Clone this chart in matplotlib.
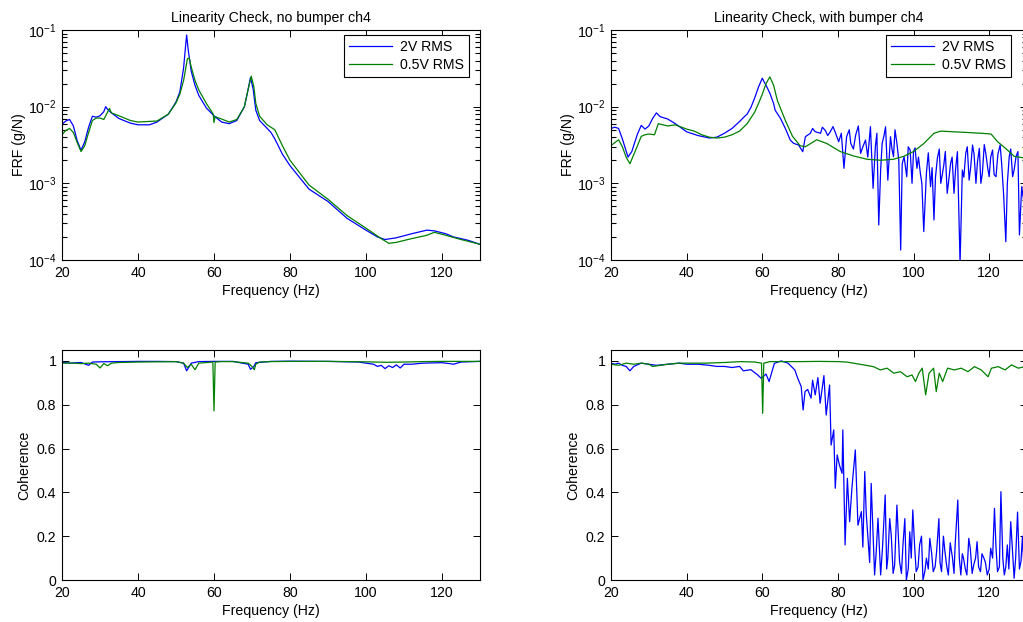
import matplotlib
matplotlib.use("Agg")
import matplotlib.pyplot as plt
from matplotlib.ticker import FixedLocator, NullFormatter

# ---------------- data ----------------
# Top-left: FRF, no bumper
f_tl_2v = [20, 21, 22, 23, 24, 25, 26, 27, 28, 29, 30, 31, 31.5, 32, 33, 35, 38, 40, 43, 45, 48, 50,
           51, 52, 52.5, 52.8, 53.2, 54, 55, 56, 58, 60, 62, 64, 66, 68, 69, 69.6, 70.3, 71, 72, 74,
           75, 76, 78, 80, 85, 90, 95, 100, 103, 105, 108, 112, 116, 118, 121, 123, 125, 127, 130]
frf_tl_2v = [5.9e-3, 6.5e-3, 6.8e-3, 5.6e-3, 3.6e-3, 2.7e-3, 3.5e-3, 5.4e-3, 7.5e-3, 7.3e-3, 7.6e-3,
             8.6e-3, 1.0e-2, 9.2e-3, 8.3e-3, 7.0e-3, 6.1e-3, 5.8e-3, 5.8e-3, 6.3e-3, 8.0e-3, 1.15e-2,
             1.55e-2, 3.2e-2, 6.0e-2, 8.6e-2, 5.6e-2, 2.9e-2, 1.9e-2, 1.4e-2, 9.6e-3, 7.6e-3, 6.3e-3,
             6.0e-3, 6.6e-3, 1.0e-2, 1.7e-2, 2.4e-2, 1.7e-2, 9.0e-3, 6.6e-3, 5.2e-3, 4.6e-3, 3.8e-3,
             2.4e-3, 1.7e-3, 8.4e-4, 5.8e-4, 3.5e-4, 2.45e-4, 2.0e-4, 1.85e-4, 1.95e-4, 2.2e-4,
             2.45e-4, 2.4e-4, 2.2e-4, 2.0e-4, 1.9e-4, 1.8e-4, 1.6e-4]

f_tl_05v = [20, 21, 22, 23, 24, 25, 26, 27, 28, 29, 30, 31, 32, 32.5, 33, 35, 38, 40, 45, 48, 50, 51,
            52, 53, 53.5, 54, 55, 56, 58, 59.8, 60, 60.3, 62, 64, 66, 68, 69, 69.8, 70.5, 71, 72, 74,
            76, 78, 80, 85, 90, 95, 100, 104, 106, 108, 112, 116, 118, 121, 125, 130]
frf_tl_05v = [4.3e-3, 4.9e-3, 5.2e-3, 4.6e-3, 3.4e-3, 2.6e-3, 3.1e-3, 4.6e-3, 6.6e-3, 7.1e-3, 7.1e-3,
              6.8e-3, 8.5e-3, 9.5e-3, 8.3e-3, 7.6e-3, 6.6e-3, 6.3e-3, 6.5e-3, 8.0e-3, 1.12e-2, 1.45e-2,
              2.2e-2, 4.2e-2, 4.3e-2, 3.3e-2, 2.2e-2, 1.65e-2, 1.1e-2, 8.0e-3, 6.2e-3, 7.4e-3, 6.9e-3,
              6.3e-3, 6.8e-3, 1.0e-2, 1.7e-2, 2.5e-2, 1.8e-2, 1.1e-2, 7.5e-3, 5.8e-3, 5.0e-3, 3.1e-3,
              2.0e-3, 9.5e-4, 6.2e-4, 3.8e-4, 2.6e-4, 1.9e-4, 1.65e-4, 1.7e-4, 1.9e-4, 2.1e-4, 2.3e-4,
              2.1e-4, 1.85e-4, 1.6e-4]

# Top-right: FRF, with bumper
f_tr_2v = [20, 21, 22, 23, 24.5, 25.5, 27, 28, 29, 30, 31, 32, 33, 35, 37, 40, 43, 46, 48, 50, 52, 54,
           55, 56, 57, 58, 59, 60, 60.5, 61, 62, 63, 63.4, 64.8, 66.1, 67.4, 68.3, 69.6, 70.7, 71.4,
           72.7, 73.3, 74, 75.4, 75.9, 76.7, 77.3, 78, 78.7, 79.4, 80.2, 80.9, 81.6, 82.3, 83.0, 83.4,
           84.1, 84.7, 85.4, 86, 86.6, 87.3, 87.9, 88.6, 89.3, 89.9, 90.3, 90.8, 91.3, 91.7, 92.2,
           92.6, 93.2, 93.9, 94.3, 94.7, 95.1, 95.6, 96.1, 96.6, 97.0, 97.5, 98.2, 98.6, 99.1, 99.6,
           100, 100.4, 100.9, 101.3, 101.8, 102.2, 102.7, 103.4, 103.9, 104.5, 104.9, 105.4, 105.8,
           106.3, 106.8, 107.2, 107.6, 108, 108.4, 108.9, 109.4, 109.8, 110.2, 110.7, 111.1, 111.6,
           112.3, 112.9, 113.3, 113.8, 114.2, 114.7, 115.1, 115.6, 116.0, 116.5, 116.9, 117.4, 117.8,
           118.2, 118.7, 119.1, 119.6, 120, 120.4, 120.9, 121.3, 121.8, 122.3, 122.9, 123.3, 123.8,
           124.4, 124.8, 125.3, 125.7, 126.2, 126.6, 127.1, 127.6, 128, 128.6, 129.1, 129.5, 130]
frf_tr_2v = [5.2e-3, 5.4e-3, 5.2e-3, 3.8e-3, 2.2e-3, 2.6e-3, 4.4e-3, 5.7e-3, 5.1e-3, 5.6e-3, 7.0e-3,
             8.3e-3, 7.4e-3, 6.9e-3, 6.0e-3, 4.7e-3, 4.2e-3, 3.9e-3, 4.0e-3, 4.5e-3, 5.2e-3, 6.4e-3,
             7.2e-3, 8.0e-3, 9.8e-3, 1.3e-2, 1.8e-2, 2.35e-2, 2.1e-2, 1.9e-2, 1.5e-2, 1.1e-2, 9.0e-3,
             7.05e-3, 5.2e-3, 3.67e-3, 3.32e-3, 3.16e-3, 2.59e-3, 4.06e-3, 4.49e-3, 5.2e-3, 4.72e-3,
             4.49e-3, 5.4e-3, 4.86e-3, 4.2e-3, 4.72e-3, 5.5e-3, 4.49e-3, 3.49e-3, 4.5e-3, 1.57e-3,
             4.06e-3, 5.0e-3, 3.32e-3, 2.8e-3, 4.27e-3, 5.6e-3, 2.46e-3, 3.0e-3, 3.67e-3, 2.2e-3,
             5.48e-3, 8.6e-4, 3.0e-3, 4.5e-3, 2.86e-4, 1.5e-3, 3.32e-3, 4.2e-3, 5.48e-3, 1.1e-3,
             4.06e-3, 2.8e-3, 2.23e-3, 5.0e-3, 3.32e-3, 2.0e-3, 1.35e-4, 1.8e-3, 2.23e-3, 1.22e-3,
             3.0e-3, 2.72e-3, 1.0e-3, 2.59e-3, 2.9e-3, 1.57e-3, 2.2e-3, 1.35e-3, 1.0e-3, 2.35e-4,
             1.35e-3, 2.5e-3, 9.05e-4, 1.6e-3, 3.33e-4, 1.2e-3, 2.12e-3, 2.8e-3, 1.0e-3, 1.3e-3,
             1.73e-3, 2.6e-3, 7.4e-4, 1.2e-3, 1.82e-3, 2.2e-3, 7.4e-4, 1.5e-3, 2.59e-3, 9.0e-5,
             1.49e-3, 1.2e-3, 2.46e-3, 3.0e-3, 1.1e-3, 1.6e-3, 3.16e-3, 2.4e-3, 1.0e-3, 1.9e-3,
             2.86e-3, 1.0e-3, 1.35e-3, 3.2e-3, 2.46e-3, 1.6e-3, 1.22e-3, 2.2e-3, 2.72e-3, 1.3e-3,
             1.22e-3, 2.4e-3, 3.16e-3, 1.8e-3, 7.4e-4, 1.73e-4, 1.0e-3, 2.23e-3, 2.8e-3, 1.22e-3,
             1.5e-3, 2.23e-3, 2.6e-3, 2.12e-4, 9.05e-4, 6.07e-4, 2.4e-3, 1.49e-3]

f_tr_05v = [20, 21, 22, 23, 24, 25, 26.5, 28, 29, 30, 31.5, 32.5, 35, 37, 40, 42, 44, 46, 48, 50, 52,
            54, 56, 58, 59, 60, 61, 62, 63, 64, 66, 68, 70, 71.4, 74.4, 77.1, 80.6, 84.2, 87.7, 91.2,
            94.7, 97.4, 100, 102.7, 105.4, 107.2, 110.7, 114.3, 117.8, 120.5, 122.2, 124.9, 126.6,
            129.1, 130]
frf_tr_05v = [3.1e-3, 3.4e-3, 3.7e-3, 3.0e-3, 2.2e-3, 1.8e-3, 2.7e-3, 4.1e-3, 4.3e-3, 4.4e-3, 4.3e-3,
              6.0e-3, 5.6e-3, 5.8e-3, 5.1e-3, 4.8e-3, 4.3e-3, 4.0e-3, 3.9e-3, 4.0e-3, 4.3e-3, 4.8e-3,
              6.0e-3, 8.5e-3, 1.1e-2, 1.45e-2, 2.0e-2, 2.45e-2, 1.9e-2, 1.2e-2, 6.8e-3, 4.1e-3, 3.1e-3,
              3.0e-3, 3.7e-3, 3.3e-3, 2.6e-3, 2.27e-3, 2.06e-3, 2.0e-3, 2.06e-3, 2.25e-3, 2.6e-3,
              3.3e-3, 4.5e-3, 4.8e-3, 4.7e-3, 4.6e-3, 4.5e-3, 4.4e-3, 3.5e-3, 2.7e-3, 2.25e-3, 2.15e-3,
              2.2e-3]

# Bottom-left: coherence, no bumper
f_bl_2v = [20, 22, 25, 27, 28, 30, 35, 40, 45, 50, 52, 52.8, 53.5, 54, 56, 60, 65, 69, 69.6, 70.5, 71,
           75, 80, 90, 98, 100, 102, 103, 104, 105, 106, 107, 108, 109, 110, 112, 115, 120, 122, 123,
           125, 130]
coh_bl_2v = [0.995, 0.99, 0.993, 0.98, 0.995, 0.996, 0.997, 0.998, 0.998, 0.997, 0.99, 0.955, 0.975,
             0.99, 0.997, 0.998, 0.998, 0.985, 0.962, 0.975, 0.992, 0.998, 0.999, 0.998, 0.995, 0.99,
             0.985, 0.975, 0.98, 0.965, 0.978, 0.97, 0.982, 0.968, 0.985, 0.985, 0.99, 0.992, 0.988,
             0.985, 0.995, 0.998]

f_bl_05v = [20, 23, 25, 27, 29, 30, 31, 32, 33, 35, 40, 45, 50, 52, 53, 54, 55, 56, 59.7, 60, 60.3,
            62, 65, 69, 70, 70.6, 71, 72, 75, 80, 90, 100, 105, 110, 115, 120, 125, 130]
coh_bl_05v = [0.99, 0.99, 0.988, 0.99, 0.985, 0.968, 0.988, 0.978, 0.99, 0.993, 0.995, 0.996, 0.997,
              0.99, 0.97, 0.985, 0.96, 0.99, 0.995, 0.772, 0.995, 0.997, 0.997, 0.99, 0.975, 0.96,
              0.985, 0.995, 0.997, 0.998, 0.998, 0.996, 0.994, 0.995, 0.997, 0.998, 0.998, 0.998]

# Bottom-right: coherence, with bumper
f_br_2v = [20, 21, 22, 23, 24, 25, 26, 28, 30, 32, 35, 38, 40, 43, 46, 48, 50, 52, 54, 55, 57, 58.8,
           59.7, 61, 61.8, 63.2, 65, 66.8, 68.6, 69.4, 70.3, 70.8, 71.3, 72, 72.9, 73.3, 74, 74.7,
           75.3, 76.3, 76.9, 77.8, 78.2, 78.9, 79.3, 79.8, 80.4, 81.1, 81.3, 81.9, 82.5, 83.1, 83.7,
           84.6, 85.3, 86.2, 86.6, 87.1, 87.5, 88, 88.4, 88.8, 89.2, 89.7, 90.1, 90.6, 91.3, 91.8,
           92.5, 92.9, 93.2, 93.7, 94.1, 94.6, 95, 95.6, 96.0, 96.3, 96.8, 97.2, 97.7, 98.1, 98.6, 99,
           99.4, 99.8, 100.3, 100.7, 101.2, 101.6, 102.1, 102.5, 103.0, 103.4, 103.9, 104.3, 104.8,
           105.2, 105.7, 106.1, 106.7, 107.0, 107.4, 107.9, 108.3, 108.8, 109.2, 109.7, 110.3, 110.7,
           111, 111.7, 112.1, 112.5, 112.9, 113.2, 113.7, 114.1, 114.6, 115, 115.5, 115.9, 116.4,
           116.8, 117.2, 117.7, 118.1, 118.6, 119.0, 119.5, 120.0, 120.4, 120.9, 121.4, 121.8, 122.2,
           122.7, 123.1, 123.6, 124, 124.4, 124.8, 125.2, 125.7, 126.2, 126.6, 127.0, 127.5, 128.0,
           128.4, 128.8, 129.3, 129.7, 130]
coh_br_2v = [0.99, 0.985, 0.99, 0.98, 0.975, 0.955, 0.975, 0.99, 0.985, 0.98, 0.985, 0.99, 0.985,
             0.985, 0.98, 0.975, 0.975, 0.97, 0.975, 0.955, 0.96, 0.936, 0.921, 0.94, 0.906, 0.989,
             1.0, 0.99, 0.959, 0.92, 0.883, 0.776, 0.86, 0.87, 0.83, 0.912, 0.845, 0.924, 0.807,
             0.933, 0.753, 0.89, 0.616, 0.685, 0.419, 0.571, 0.525, 0.487, 0.685, 0.16, 0.464, 0.266,
             0.419, 0.594, 0.25, 0.312, 0.15, 0.495, 0.3, 0.175, 0.08, 0.441, 0.25, 0.023, 0.12,
             0.282, 0.023, 0.15, 0.388, 0.05, 0.1, 0.28, 0.205, 0.03, 0.068, 0.342, 0.2, 0.084, 0.03,
             0.16, 0.28, 0.0, 0.05, 0.22, 0.1, 0.32, 0.15, 0.038, 0.06, 0.16, 0.2, 0.0, 0.04, 0.1,
             0.05, 0.19, 0.12, 0.038, 0.06, 0.13, 0.28, 0.08, 0.038, 0.2, 0.13, 0.06, 0.023, 0.17,
             0.1, 0.03, 0.16, 0.365, 0.1, 0.023, 0.12, 0.1, 0.05, 0.023, 0.19, 0.145, 0.03, 0.068,
             0.1, 0.175, 0.06, 0.038, 0.12, 0.1, 0.08, 0.023, 0.05, 0.145, 0.1, 0.327, 0.15, 0.038,
             0.06, 0.403, 0.1, 0.023, 0.06, 0.16, 0.05, 0.266, 0.12, 0.008, 0.1, 0.31, 0.05, 0.084,
             0.2, 0.008, 0.31, 0.2]

f_br_05v = [20, 22, 24, 26, 28, 30, 31, 33, 35, 38, 40, 45, 50, 54.3, 58, 59.8, 60.1, 60.4, 62, 65, 70,
            75, 80, 82.3, 85.8, 89.4, 91.2, 93, 94.8, 96.5, 98.3, 99.6, 100.5, 101.4, 102.3, 103.2,
            104.1, 105.3, 106, 106.8, 107.7, 109, 110.8, 112.6, 114.4, 116.1, 117.9, 119.7, 120.6,
            122.4, 124.2, 125.9, 127.7, 129.4, 130]
coh_br_05v = [0.985, 0.98, 0.99, 0.985, 0.99, 0.985, 0.975, 0.98, 0.985, 0.99, 0.99, 0.99, 0.993,
              0.997, 0.995, 0.99, 0.761, 0.99, 0.997, 0.997, 0.997, 0.998, 0.997, 0.995, 0.985,
              0.974, 0.959, 0.967, 0.944, 0.951, 0.928, 0.936, 0.906, 0.944, 0.967, 0.845, 0.944,
              0.967, 0.86, 0.944, 0.906, 0.967, 0.959, 0.967, 0.951, 0.974, 0.959, 0.928, 0.967,
              0.974, 0.959, 0.982, 0.967, 0.974, 0.97]

series_labels = ["2V RMS", "0.5V RMS"]
titles = ["Linearity Check, no bumper ch4", "Linearity Check, with bumper ch4"]
x_ticks = [20, 40, 60, 80, 100, 120]
frf_ticks = [1e-4, 1e-3, 1e-2, 1e-1]
frf_minor = [m * d for d in (1e-4, 1e-3, 1e-2) for m in (2, 3, 4, 5, 6, 7, 8, 9)]
coh_ticks = [0, 0.2, 0.4, 0.6, 0.8, 1]
coh_tick_labels = ["0", "0.2", "0.4", "0.6", "0.8", "1"]

# ---------------- style ----------------
plt.rcParams["font.family"] = ["Liberation Sans", "DejaVu Sans"]
plt.rcParams["mathtext.fontset"] = "custom"
plt.rcParams["mathtext.rm"] = "Liberation Sans"
plt.rcParams["mathtext.it"] = "Liberation Sans:italic"
plt.rcParams["axes.unicode_minus"] = False
FS = 10.2

BLUE = (0, 0, 1)
GREEN = (0, 0.5, 0)
W, H = 1023, 622

fig = plt.figure(figsize=(W / 100, H / 100), dpi=100)


def px_axes(x0, y0, x1, y1):
    return fig.add_axes([x0 / W, 1 - y1 / H, (x1 - x0) / W, (y1 - y0) / H])


ax_tl = px_axes(62, 30, 480, 260)
ax_tr = px_axes(611, 30, 1027, 260)
ax_bl = px_axes(62, 350, 480, 580)
ax_br = px_axes(611, 350, 1027, 580)


def style(ax):
    ax.tick_params(which="both", direction="in", top=True, right=True, colors="black",
                   labelsize=FS, pad=4)
    ax.tick_params(which="major", length=5, width=0.7)
    ax.tick_params(which="minor", length=3.5, width=0.8)
    for s in ax.spines.values():
        s.set_linewidth(0.8)
        s.set_color("black")
    ax.set_xlim(20, 130)
    ax.set_xticks(x_ticks)
    ax.set_xlabel("Frequency (Hz)", fontsize=FS, labelpad=3)


lw = 0.9
for ax, fb, vb, fg, vg, title, lx in [
    (ax_tl, f_tl_2v, frf_tl_2v, f_tl_05v, frf_tl_05v, titles[0], 469),
    (ax_tr, f_tr_2v, frf_tr_2v, f_tr_05v, frf_tr_05v, titles[1], 1011),
]:
    ax.plot(fb, vb, color=BLUE, lw=lw, label=series_labels[0])
    ax.plot(fg, vg, color=GREEN, lw=lw, label=series_labels[1])
    ax.set_yscale("log")
    ax.set_ylim(1e-4, 1e-1)
    ax.set_yticks(frf_ticks)
    ax.yaxis.set_minor_locator(FixedLocator(frf_minor))
    ax.yaxis.set_minor_formatter(NullFormatter())
    ax.set_ylabel("FRF (g/N)", fontsize=FS, labelpad=1)
    ax.set_title(title, fontsize=FS, pad=6)
    style(ax)
    leg = ax.legend(loc="upper right", bbox_to_anchor=(lx / W, 1 - 35 / H),
                    bbox_transform=fig.transFigure, borderaxespad=0, fancybox=False,
                    edgecolor="black", framealpha=1, fontsize=FS, handlelength=3.0,
                    handletextpad=0.6, labelspacing=0.3, borderpad=0.35)
    leg.get_frame().set_linewidth(0.8)

for ax, fb, vb, fg, vg in [
    (ax_bl, f_bl_2v, coh_bl_2v, f_bl_05v, coh_bl_05v),
    (ax_br, f_br_2v, coh_br_2v, f_br_05v, coh_br_05v),
]:
    ax.plot(fb, vb, color=BLUE, lw=lw)
    ax.plot(fg, vg, color=GREEN, lw=lw)
    ax.set_ylim(0, 1.05)
    ax.set_yticks(coh_ticks)
    ax.set_yticklabels(coh_tick_labels)
    ax.set_ylabel("Coherence", fontsize=FS, labelpad=4)
    style(ax)

fig.savefig("out.png", dpi=100)
